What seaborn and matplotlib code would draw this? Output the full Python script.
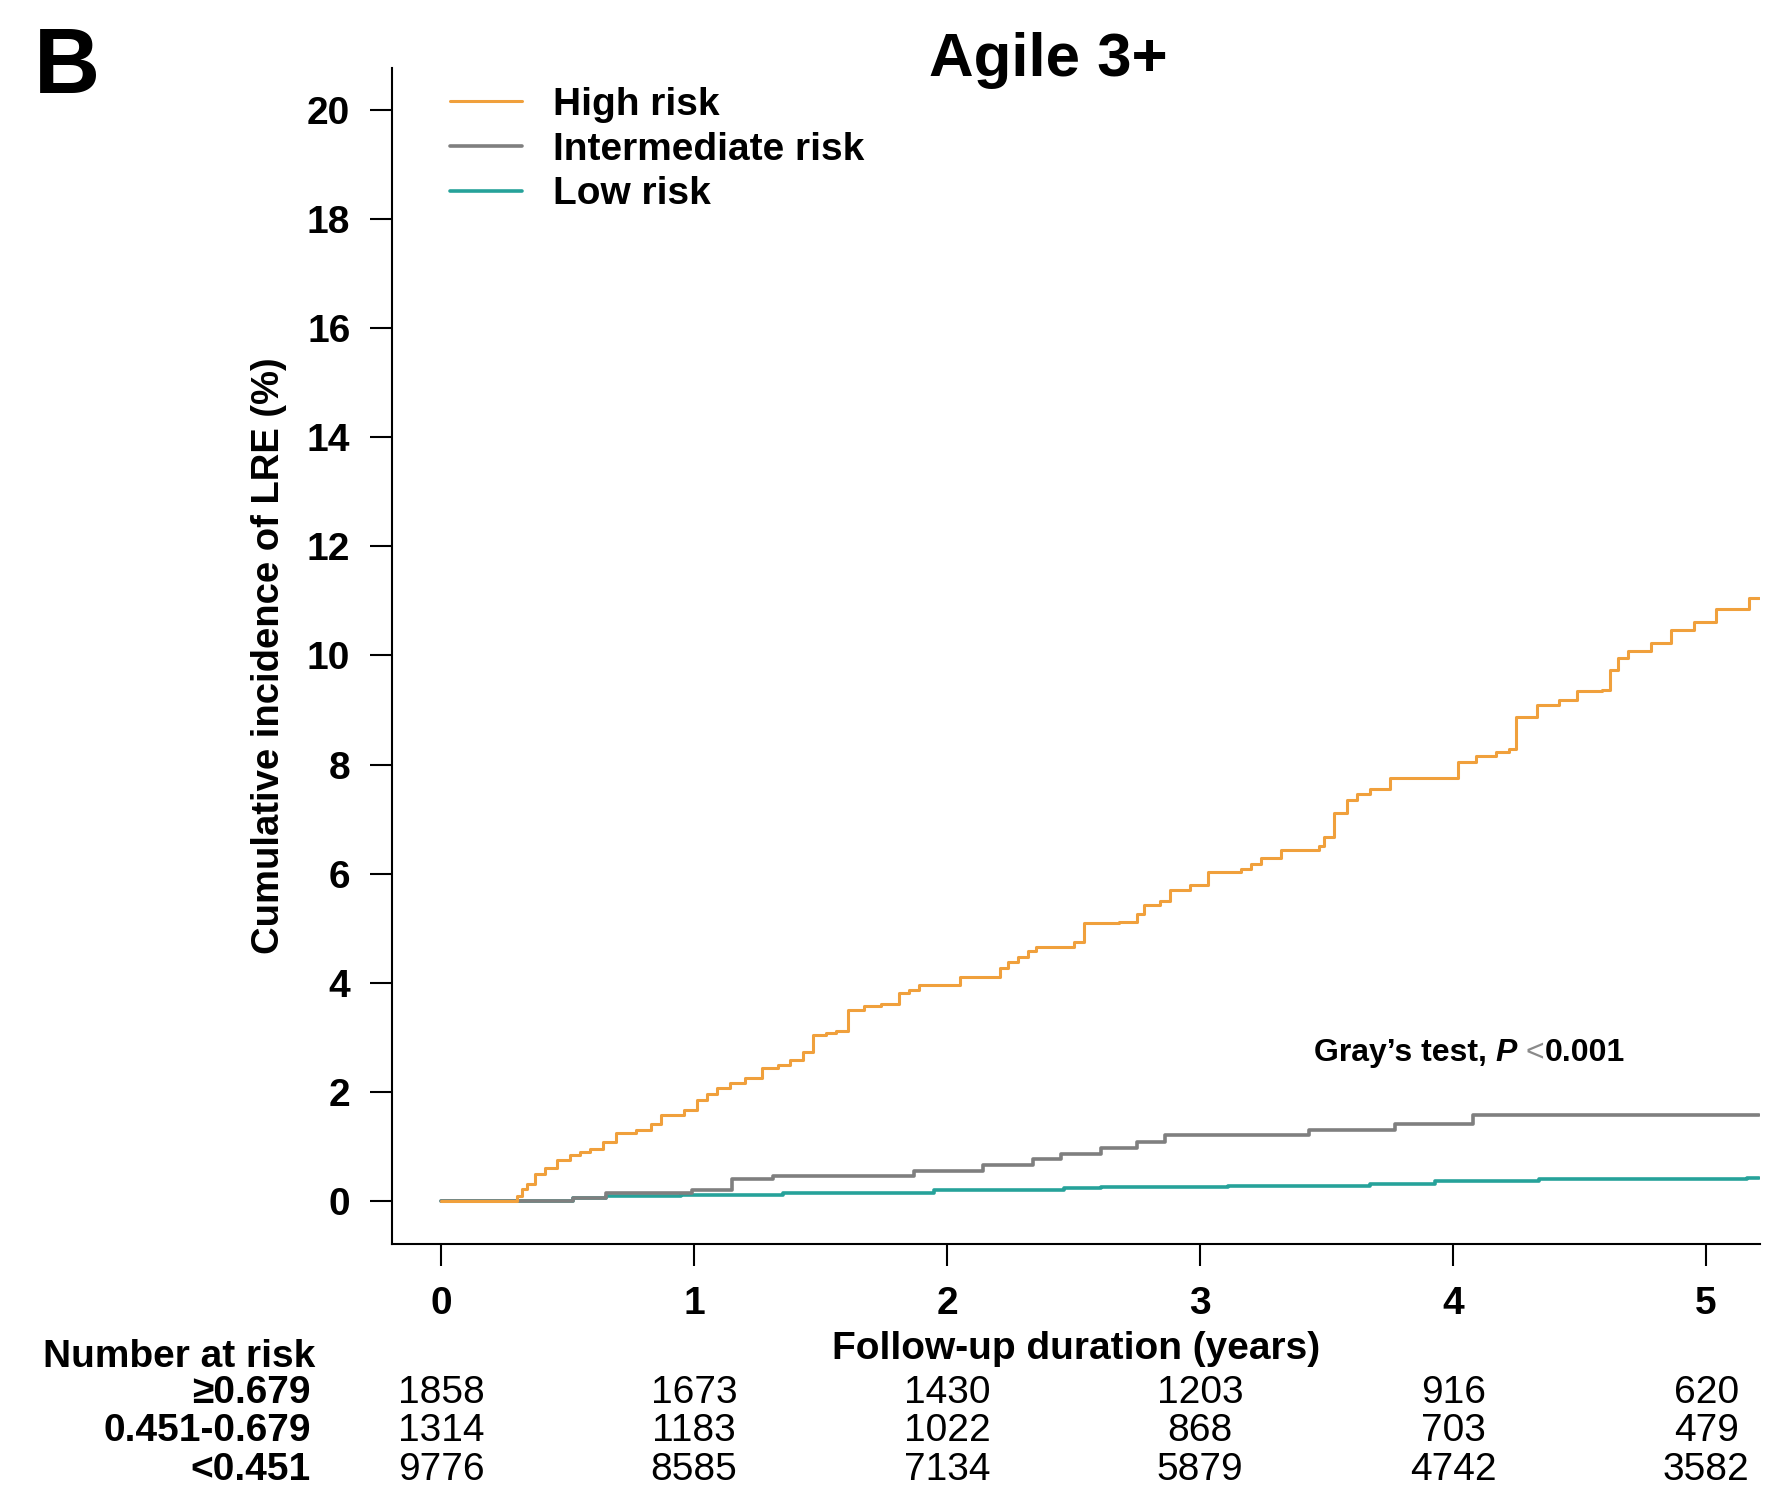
import matplotlib
matplotlib.use("Agg")
import matplotlib.pyplot as plt
import matplotlib.transforms as mtransforms
from matplotlib.offsetbox import TextArea, HPacker, AnnotationBbox
import pandas as pd
import seaborn as sns

# cumulative incidence curves (step functions)
high_t = [0, 0.30, 0.32, 0.34, 0.37, 0.41, 0.46, 0.51, 0.55, 0.59, 0.64, 0.69, 0.77,
          0.83, 0.87, 0.96, 1.01, 1.05, 1.09, 1.14, 1.20, 1.27, 1.33, 1.38, 1.43,
          1.47, 1.52, 1.56, 1.61, 1.67, 1.74, 1.81, 1.85, 1.89, 2.05, 2.21, 2.24,
          2.28, 2.32, 2.35, 2.50, 2.54, 2.68, 2.75, 2.78, 2.84, 2.88, 2.96, 3.03,
          3.16, 3.20, 3.24, 3.32, 3.47, 3.49, 3.53, 3.58, 3.62, 3.67, 3.75, 4.02,
          4.09, 4.17, 4.22, 4.25, 4.33, 4.42, 4.49, 4.59, 4.62, 4.65, 4.69, 4.78,
          4.86, 4.95, 5.04, 5.17, 5.21]
high_cif = [0, 0.10, 0.22, 0.32, 0.50, 0.60, 0.75, 0.85, 0.90, 0.95, 1.09, 1.25, 1.30,
            1.42, 1.58, 1.67, 1.85, 1.97, 2.08, 2.17, 2.25, 2.43, 2.50, 2.58, 2.74,
            3.05, 3.08, 3.12, 3.50, 3.58, 3.62, 3.81, 3.87, 3.96, 4.10, 4.27, 4.38,
            4.48, 4.58, 4.66, 4.75, 5.09, 5.12, 5.27, 5.43, 5.50, 5.70, 5.79, 6.04,
            6.08, 6.18, 6.28, 6.43, 6.50, 6.68, 7.11, 7.36, 7.47, 7.56, 7.75, 8.05,
            8.15, 8.24, 8.29, 8.88, 9.09, 9.19, 9.34, 9.37, 9.73, 9.95, 10.09, 10.22,
            10.47, 10.62, 10.86, 11.05, 11.05]

inter_t = [0, 0.52, 0.65, 0.99, 1.15, 1.31, 1.87, 2.14, 2.34, 2.45, 2.61, 2.75, 2.86,
           3.43, 3.77, 4.08, 5.21]
inter_cif = [0, 0.06, 0.14, 0.21, 0.40, 0.46, 0.55, 0.66, 0.77, 0.87, 0.97, 1.09, 1.21,
             1.31, 1.42, 1.57, 1.57]

low_t = [0, 0.52, 0.65, 0.95, 1.35, 1.95, 2.46, 2.61, 3.11, 3.67, 3.93, 4.34, 5.16, 5.21]
low_cif = [0, 0.05, 0.09, 0.11, 0.14, 0.20, 0.23, 0.26, 0.28, 0.32, 0.37, 0.40, 0.43, 0.43]

# number at risk table
years = [0, 1, 2, 3, 4, 5]
row_labels = ["\u22650.679", "0.451-0.679", "<0.451"]
n_high = [1858, 1673, 1430, 1203, 916, 620]
n_inter = [1314, 1183, 1022, 868, 703, 479]
n_low = [9776, 8585, 7134, 5879, 4742, 3582]

sns.set_style("ticks")
plt.rcParams['font.family'] = ['Liberation Sans', 'DejaVu Sans']
plt.rcParams.update({"text.color": "black", "axes.labelcolor": "black",
                     "xtick.color": "black", "ytick.color": "black"})

fig = plt.figure(figsize=(17.73, 14.88), dpi=100)
ax = fig.add_axes([0.2211, 0.164, 0.7716, 0.7903])

# drawn low -> high so the orange line sits on top
curves = [
    ("Low risk", low_t, low_cif, "#26A29A", 2.6),
    ("Intermediate risk", inter_t, inter_cif, "#7F7F7F", 2.6),
    ("High risk", high_t, high_cif, "#F0A03C", 2.2),
]
for label, t, c, color, lw in curves:
    df = pd.DataFrame({"time": t, "cif": c})
    sns.lineplot(data=df, x="time", y="cif", ax=ax, color=color, lw=lw,
                 drawstyle="steps-post", estimator=None, sort=False, label=label)

handles = ax.lines[::-1]
labels = ["High risk", "Intermediate risk", "Low risk"]
ax.legend(handles, labels, loc="upper left", bbox_to_anchor=(0.2538, 0.9418),
          bbox_transform=fig.transFigure, frameon=False, borderpad=0, borderaxespad=0,
          labelspacing=0.23, handlelength=1.85, handletextpad=0.8,
          prop={"weight": "bold", "size": 28})

ax.set_xlim(-0.194, 5.213)
ax.set_ylim(-0.788, 20.77)
ax.set_xticks(years)
ax.set_yticks(range(0, 21, 2))
ax.tick_params(direction="out", length=15.5, width=1.5, pad=14.5, labelsize=28,
               color="black", labelcolor="black")
for lab in ax.get_xticklabels() + ax.get_yticklabels():
    lab.set_fontweight("bold")
for s in ["top", "right"]:
    ax.spines[s].set_visible(False)
for s in ["left", "bottom"]:
    ax.spines[s].set_linewidth(1.5)
    ax.spines[s].set_color("black")

ax.set_ylabel("Cumulative incidence of LRE (%)", fontsize=27.5, fontweight="bold")
ax.yaxis.set_label_coords(-0.0766, 0.5)
ax.set_xlabel("Follow-up duration (years)", fontsize=28, fontweight="bold")
ax.xaxis.set_label_coords(0.5, -0.074)

fig.text(0.591, 0.949, "Agile 3+", ha="center", va="baseline", fontsize=44.5,
         fontweight="bold")
fig.text(0.0192, 0.9375, "B", ha="left", va="baseline", fontsize=66, fontweight="bold")

# Gray's test annotation
fs = 23
parts = [
    TextArea("Gray\u2019s test, ", textprops=dict(size=fs, weight="bold")),
    TextArea("P", textprops=dict(size=fs, weight="bold", style="italic")),
    TextArea(" <", textprops=dict(size=fs, weight="normal", color="#8a8a8a")),
    TextArea("0.001", textprops=dict(size=fs, weight="bold")),
]
box = HPacker(children=parts, align="baseline", pad=0, sep=0)
ab = AnnotationBbox(box, (3.45, 2.72), xycoords="data", box_alignment=(0, 0.5),
                    frameon=False, pad=0)
ax.add_artist(ab)

# number at risk
trans = mtransforms.blended_transform_factory(ax.transData, fig.transFigure)
fig.text(0.0243, 0.0812, "Number at risk", ha="left", va="baseline", fontsize=28,
         fontweight="bold")
row_y = [0.0571, 0.0313, 0.0057]
for lab, counts, y in zip(row_labels, [n_high, n_inter, n_low], row_y):
    fig.text(0.1754, y, lab, ha="right", va="baseline", fontsize=28, fontweight="bold")
    for yr, n in zip(years, counts):
        ax.text(yr, y, str(n), transform=trans, ha="center", va="baseline", fontsize=28)

fig.savefig("out.png", dpi=100)
